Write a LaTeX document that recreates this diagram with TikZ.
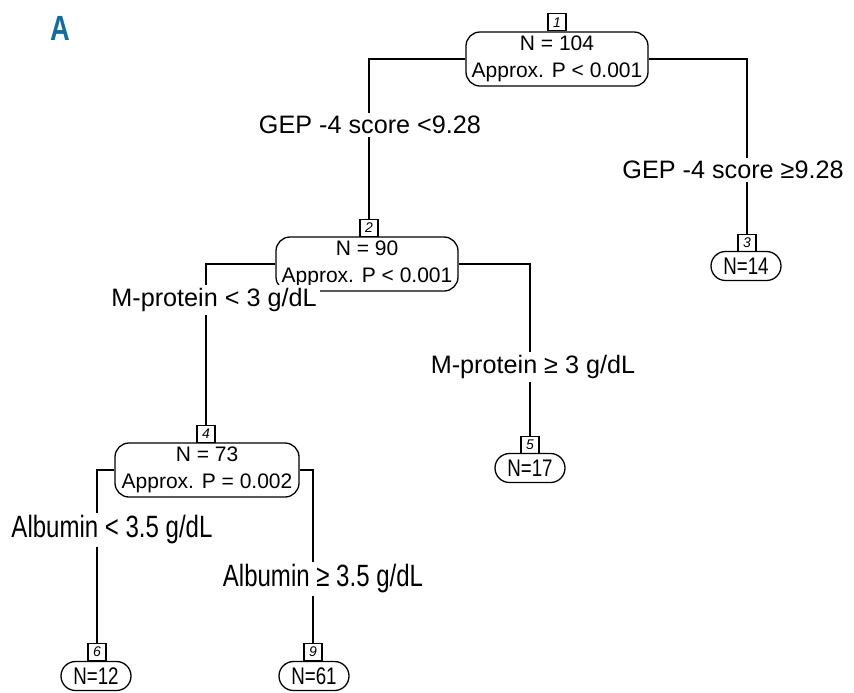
\documentclass[tikz,border=0pt]{standalone}
\usepackage{fontspec}
\setmainfont{Liberation Sans}
\newfontfamily\condfont[FakeStretch=0.78]{Liberation Sans}
\usetikzlibrary{shapes.misc}
\definecolor{panelblue}{RGB}{18,108,156}

\begin{document}
\begin{tikzpicture}[
		x=0.5pt, y=-0.5pt,
		line width=0.65pt,
		split node/.style={draw, rounded corners=7pt, minimum width=91pt, minimum height=27pt, inner sep=1pt, align=center, font=\fontsize{10.5}{13.5}\selectfont},
		leaf node/.style={draw, rounded rectangle, minimum width=37pt, minimum height=14.5pt, inner sep=1pt, font=\condfont\fontsize{12}{12}\selectfont},
		num box/.style={draw, minimum width=9pt, minimum height=8.5pt, inner sep=0pt, font=\itshape\fontsize{7}{7}\selectfont},
		cut label/.style={fill=white, inner sep=1.5pt, font=\fontsize{12.6}{15}\selectfont},
		narrow label/.style={cut label, font=\condfont\fontsize{15.4}{18}\selectfont}
		]
		\useasboundingbox (0,0) rectangle (854,692);
		
		% panel letter
		\node[text=panelblue, font=\condfont\bfseries\fontsize{17.5}{17.5}\selectfont] (panel) at (60,28) {A};
		
		% split nodes
		\node[split node] (n1) at (557,59) {N = 104\\Approx. P < 0.001};
		\node[split node] (n2) at (367,264) {N = 90\\Approx. P < 0.001};
		\node[split node, minimum width=92pt] (n4) at (207,470) {N = 73\\Approx. P = 0.002};
		
		% leaves
		\node[leaf node] (n3) at (746,266) {N=14};
		\node[leaf node] (n5) at (530,468) {N=17};
		\node[leaf node] (n6) at (96,676) {N=12};
		\node[leaf node] (n9) at (314,676) {N=61};
		
		% node numbers
		\node[num box, anchor=south] (b1) at (n1.north) {1};
		\node[num box, anchor=south] (b2) at (369,237) {2};
		\node[num box, anchor=south] (b3) at (747,252) {3};
		\node[num box, anchor=south] (b4) at (206,443) {4};
		\node[num box, anchor=south] (b5) at (530,454) {5};
		\node[num box, anchor=south] (b6) at (97,661) {6};
		\node[num box, anchor=south] (b9) at (313,661) {9};
		
		% branches
		\draw (n1.west) -| (b2.north);
		\draw (n1.east) -| (b3.north);
		\draw (n2.west) -| (b4.north);
		\draw (n2.east) -| (b5.north);
		\draw (n4.west) -| (b6.north);
		\draw (n4.east) -| (b9.north);
		
		% split rules
		\node[cut label] (r1) at (370,125) {GEP -4 score <9.28};
		\node[cut label] (r2) at (733,170) {GEP -4 score ≥9.28};
		\node[cut label] (r3) at (214,300) {M-protein < 3 g/dL};
		\node[cut label] (r4) at (533,367) {M-protein ≥ 3 g/dL};
		\node[narrow label] (r5) at (112,530) {Albumin < 3.5 g/dL};
		\node[narrow label] (r6) at (323,579) {Albumin ≥ 3.5 g/dL};
		
	\end{tikzpicture}
\end{document}
